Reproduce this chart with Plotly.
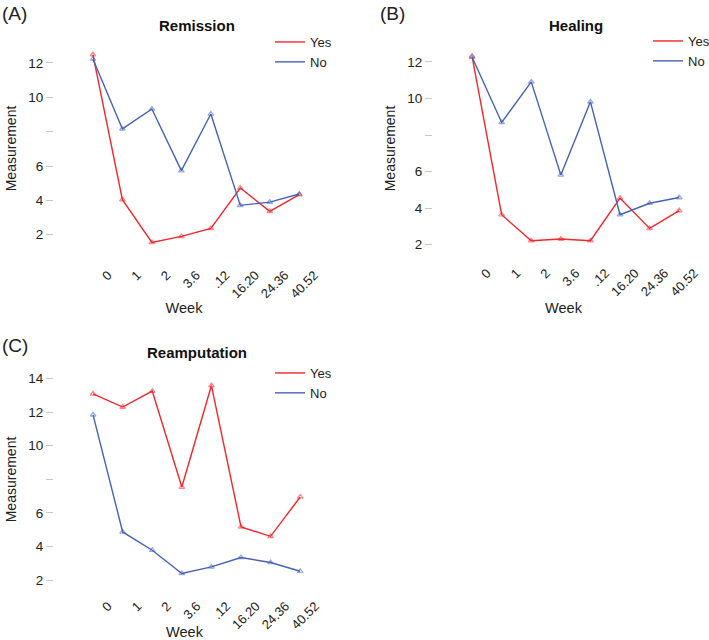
import plotly.graph_objects as go

weeks = ["0", "1", "2", "3.6", ".12", "16.20", "24.36", "40.52"]

remission_yes = [12.49, 4.04, 1.55, 1.90, 2.37, 4.72, 3.36, 4.33]
remission_no = [12.23, 8.16, 9.32, 5.73, 9.03, 3.71, 3.90, 4.37]

healing_yes = [12.31, 3.64, 2.22, 2.31, 2.22, 4.55, 2.89, 3.87]
healing_no = [12.27, 8.69, 10.91, 5.82, 9.82, 3.64, 4.27, 4.58]

reamp_yes = [13.09, 12.30, 13.25, 7.54, 13.58, 5.17, 4.61, 6.95]
reamp_no = [11.84, 4.87, 3.78, 2.40, 2.79, 3.35, 3.05, 2.53]

panels = [
    ("(A)", "Remission", remission_yes, remission_no, [2, 4, 6, 8, 10, 12], [1.11, 12.93]),
    ("(B)", "Healing", healing_yes, healing_no, [2, 4, 6, 8, 10, 12], [1.82, 12.71]),
    ("(C)", "Reamputation", reamp_yes, reamp_no, [2, 4, 6, 8, 10, 12, 14], [1.95, 14.03]),
]

W, H = 709, 640
RED = "#F2262B"
BLUE = "#4561B9"
FONT = "Liberation Sans, Arial, sans-serif"

# pixel boxes: (left, right, top, bottom)
boxes = [(54, 314, 47, 250), (433, 694, 49, 248), (54, 315, 378, 581)]
legend_pos = [(270, 27), (648, 26), (270, 358)]
label_pos = [(0, 14), (378, 14), (0, 345)]
title_pos = [(197, 25), (576, 25), (197, 352)]
week_standoff = [2, 4, 7]

fig = go.Figure()
layout = dict(
    width=W, height=H, margin=dict(l=0, r=0, t=0, b=0, autoexpand=False),
    paper_bgcolor="white", plot_bgcolor="white",
    font=dict(family=FONT, color="#222222", size=12),
    annotations=[],
)

for i, (lab, title, yes, no, yt, yr) in enumerate(panels):
    sfx = "" if i == 0 else str(i + 1)
    l, r, t, b = boxes[i]
    legname = "legend" + sfx
    for name, vals, col in (("Yes", yes, RED), ("No", no, BLUE)):
        fig.add_trace(go.Scatter(
            x=weeks, y=vals, name=name, mode="lines+markers",
            line=dict(color=col, width=1.4),
            marker=dict(symbol="triangle-up-open", size=5, color=col, opacity=0.55,
                        line=dict(width=1.2)),
            xaxis="x" + sfx, yaxis="y" + sfx, showlegend=False,
        ))
        # legend entry (line only, as in the reference)
        fig.add_trace(go.Scatter(
            x=[None], y=[None], name=name, mode="lines",
            line=dict(color=col, width=1.4),
            xaxis="x" + sfx, yaxis="y" + sfx, legend=legname, showlegend=True,
        ))
    layout["xaxis" + sfx] = dict(
        domain=[l / W, r / W], anchor="y" + sfx, type="category", automargin=False,
        range=[-1.32, 7.5], showgrid=False, zeroline=False, showline=False,
        ticks="", tickangle=-45, ticklabelshift=15, ticklabelstandoff=14,
        tickfont=dict(size=13, color="#222222"),
        title=dict(text="Week", font=dict(size=14.5, color="#222222"),
                   standoff=week_standoff[i]),
    )
    layout["yaxis" + sfx] = dict(
        domain=[1 - b / H, 1 - t / H], anchor="x" + sfx, range=yr, automargin=False,
        tickvals=yt, ticktext=[("" if v == 8 else str(v)) for v in yt],
        showgrid=False, zeroline=False, showline=False,
        ticks="outside", ticklen=7, tickcolor="#c8c8c8", tickwidth=1,
        tickfont=dict(size=13.5, color="#222222"),
        title=dict(text="Measurement", font=dict(size=14, color="#222222"), standoff=8),
    )
    lx, ly = legend_pos[i]
    layout[legname] = dict(
        x=lx / W, y=1 - ly / H, xanchor="left", yanchor="top",
        bgcolor="rgba(0,0,0,0)", font=dict(size=13, color="#222222"),
        itemwidth=30, tracegroupgap=0,
    )
    px, py = label_pos[i]
    layout["annotations"].append(dict(
        text=lab, x=px / W, y=1 - py / H, xref="paper", yref="paper",
        xanchor="left", yanchor="middle", showarrow=False,
        font=dict(size=19, color="#222222"),
    ))
    tx, ty = title_pos[i]
    layout["annotations"].append(dict(
        text="<b>" + title + "</b>", x=tx / W, y=1 - ty / H, xref="paper", yref="paper",
        xanchor="center", yanchor="middle", showarrow=False,
        font=dict(size=15, color="#111111"),
    ))

fig.update_layout(**layout)
fig.write_html("out.html", config={"displayModeBar": False},
               post_script="document.body.style.margin='0';")
